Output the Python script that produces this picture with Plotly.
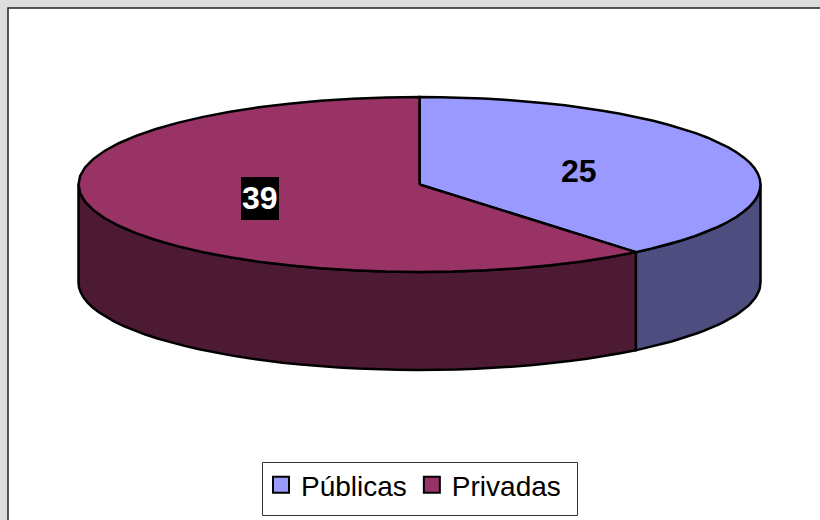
import numpy as np
import plotly.graph_objects as go

categories = ["Públicas", "Privadas"]
values = [25, 39]
top_colors = ["#9999FF", "#993366"]
side_colors = ["#4D4D80", "#4D1A33"]

W, H = 820, 520
cx, cy, rx, ry, depth = 419.5, 184.5, 341, 87.5, 98


def ell(theta, dy=0.0):
    return cx + rx * np.sin(theta), cy - ry * np.cos(theta) + dy


shares = np.array(values, dtype=float) / sum(values)
edges = np.concatenate([[0], np.cumsum(shares)]) * 2 * np.pi

fig = go.Figure()

# side walls (only the front half of the ellipse is visible)
for i in range(len(values)):
    a = max(edges[i], np.pi / 2)
    b = min(edges[i + 1], 3 * np.pi / 2)
    if b <= a:
        continue
    t = np.linspace(a, b, 40)
    x1, y1 = ell(t)
    x2, y2 = ell(t[::-1], depth)
    fig.add_trace(go.Scatter(
        x=np.concatenate([x1, x2, x1[:1]]), y=np.concatenate([y1, y2, y1[:1]]),
        mode="lines", fill="toself", fillcolor=side_colors[i],
        line=dict(color="black", width=2.5), showlegend=False, hoverinfo="skip"))

# top faces
for i in range(len(values)):
    t = np.linspace(edges[i], edges[i + 1], 40)
    x1, y1 = ell(t)
    fig.add_trace(go.Scatter(
        x=np.concatenate([[cx], x1, [cx]]), y=np.concatenate([[cy], y1, [cy]]),
        mode="lines", fill="toself", fillcolor=top_colors[i],
        line=dict(color="black", width=2.5), showlegend=False, hoverinfo="skip"))

# legend entries
for name, col in zip(categories, top_colors):
    fig.add_trace(go.Scatter(
        x=[None], y=[None], mode="markers", name=name,
        marker=dict(symbol="square", size=16, color=col, line=dict(color="black", width=2))))

label_font = "Liberation Sans, Arial, sans-serif"
fig.add_annotation(x=579, y=171, text=f"<b>{values[0]}</b>", showarrow=False,
                   font=dict(family=label_font, size=32, color="black"))
fig.add_annotation(x=260, y=198, text=f"<b>{values[1]}</b>", showarrow=False,
                   font=dict(family=label_font, size=32, color="white"))

fig.update_layout(
    width=W, height=H, margin=dict(l=0, r=0, t=0, b=0),
    paper_bgcolor="#DDDDDD", plot_bgcolor="#DDDDDD",
    xaxis=dict(range=[0, W], visible=False, fixedrange=True),
    yaxis=dict(range=[H, 0], visible=False, fixedrange=True),
    shapes=[
        dict(type="rect", xref="x", yref="y", x0=8, y0=8, x1=W + 10, y1=H + 10,
             fillcolor="white", line=dict(color="#222222", width=1.5), layer="below"),
        dict(type="rect", xref="x", yref="y", x0=262.5, y0=462.5, x1=577.5, y1=515.5,
             fillcolor="white", line=dict(color="#333333", width=1), layer="below"),
        dict(type="rect", xref="x", yref="y", x0=241, y0=177, x1=279, y1=220,
             fillcolor="black", line=dict(width=0), layer="above"),
    ],
    legend=dict(orientation="h", xref="paper", yref="paper", x=261 / W, y=1 - 460 / H,
                xanchor="left", yanchor="top", bgcolor="rgba(0,0,0,0)",
                borderwidth=0,
                font=dict(family=label_font, size=28, color="black"),
                itemwidth=30, tracegroupgap=0),
)
fig.write_html("out.html", config={"displayModeBar": False},
               post_script="document.body.style.margin='0';document.body.style.overflow='hidden';")
